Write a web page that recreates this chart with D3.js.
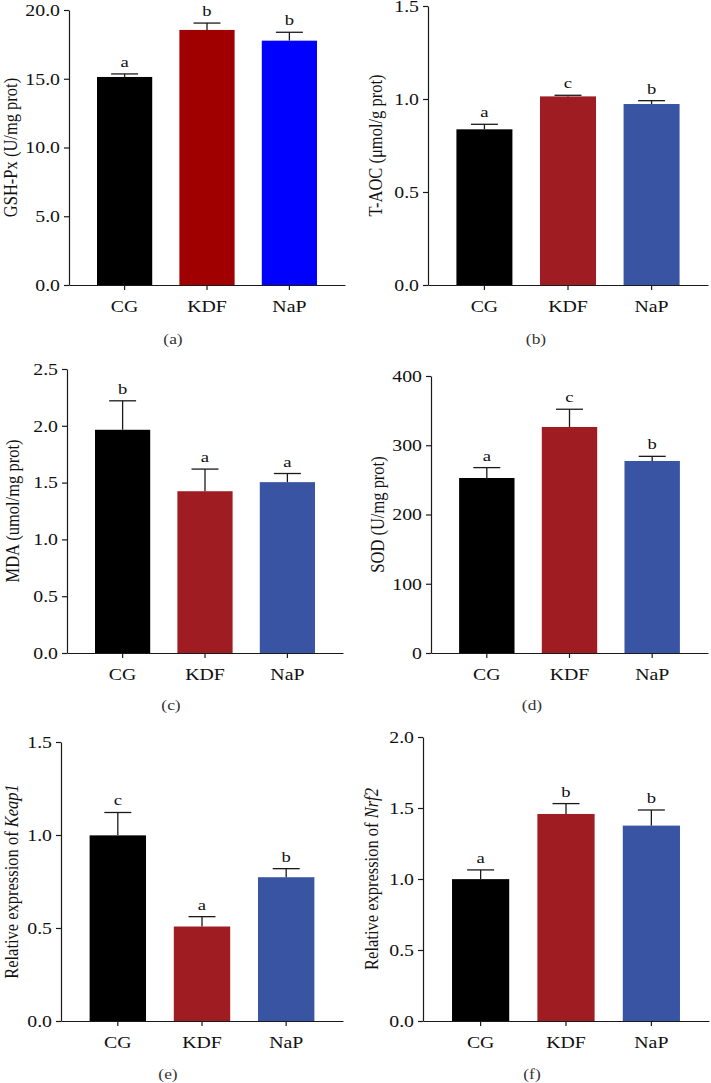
<!DOCTYPE html>
<html>
<head>
<meta charset="utf-8">
<script src="https://cdn.jsdelivr.net/npm/d3@7"></script>
<style>
  body { margin: 0; background: #fff; }
  svg { display: block; }
  text { font-family: "Liberation Serif", "Times New Roman", serif; fill: #111; }
  .domain, .tick line { stroke: #1a1a1a; stroke-width: 1.2; }
</style>
</head>
<body>
<div id="chart"></div>
<script>
// group names on the x axis
const groups = ['CG', 'KDF', 'NaP'];

// bar heights, upper error (SD) and significance letters
const gshPx = [15.13, 18.55, 17.77];
const gshPxErr = [0.22, 0.50, 0.61];
const gshPxSig = ['a', 'b', 'b'];

const tAoc = [0.837, 1.014, 0.973];
const tAocErr = [0.027, 0.006, 0.018];
const tAocSig = ['a', 'c', 'b'];

const mda = [1.965, 1.424, 1.504];
const mdaErr = [0.255, 0.195, 0.076];
const mdaSig = ['b', 'a', 'a'];

const sod = [252.7, 326.4, 277.3];
const sodErr = [15.0, 25.6, 6.7];
const sodSig = ['a', 'c', 'b'];

const keap1 = [0.998, 0.508, 0.773];
const keap1Err = [0.123, 0.053, 0.046];
const keap1Sig = ['c', 'a', 'b'];

const nrf2 = [0.999, 1.458, 1.376];
const nrf2Err = [0.065, 0.073, 0.110];
const nrf2Sig = ['a', 'b', 'b'];

// y tick values
const ticksA = [0, 5, 10, 15, 20];
const ticksB = [0, 0.5, 1.0, 1.5];
const ticksC = [0, 0.5, 1.0, 1.5, 2.0, 2.5];
const ticksD = [0, 100, 200, 300, 400];
const ticksE = [0, 0.5, 1.0, 1.5];
const ticksF = [0, 0.5, 1.0, 1.5, 2.0];

const coloursA = ['#000000', '#a00000', '#0000ff'];
const coloursRest = ['#000000', '#9e1c22', '#3a54a4'];

const W = 711, H = 1083;
const SX = 1.2; // the source figure is stretched sideways, so is its lettering

const svg = d3.select('#chart').append('svg')
	.attr('width', W)
	.attr('height', H);

const panels = [
	{ label: '(a)', vals: gshPx, errs: gshPxErr, sig: gshPxSig, ticks: ticksA, fmt: '.1f', colours: coloursA,
	  title: [['GSH-Px (U/mg prot)', false]], x0: 69, x1: 345, top: 10, base: 285, titleX: 11, lab: [173, 344] },
	{ label: '(b)', vals: tAoc, errs: tAocErr, sig: tAocSig, ticks: ticksB, fmt: '.1f', colours: coloursRest,
	  title: [['T-AOC (μmol/g prot)', false]], x0: 428, x1: 708, top: 6, base: 285, titleX: 376, lab: [536, 344] },
	{ label: '(c)', vals: mda, errs: mdaErr, sig: mdaSig, ticks: ticksC, fmt: '.1f', colours: coloursRest,
	  title: [['MDA (umol/mg prot)', false]], x0: 67, x1: 343, top: 369, base: 653, titleX: 13, lab: [171, 710] },
	{ label: '(d)', vals: sod, errs: sodErr, sig: sodSig, ticks: ticksD, fmt: 'd', colours: coloursRest,
	  title: [['SOD (U/mg prot)', false]], x0: 431, x1: 708, top: 376, base: 653, titleX: 378, lab: [532, 710] },
	{ label: '(e)', vals: keap1, errs: keap1Err, sig: keap1Sig, ticks: ticksE, fmt: '.1f', colours: coloursRest,
	  title: [['Relative expression of ', false], ['Keap1', true]], x0: 61, x1: 343, top: 742, base: 1021, titleX: 12, lab: [168, 1079] },
	{ label: '(f)', vals: nrf2, errs: nrf2Err, sig: nrf2Sig, ticks: ticksF, fmt: '.1f', colours: coloursRest,
	  title: [['Relative expression of ', false], ['Nrf2', true]], x0: 423, x1: 709, top: 737, base: 1021, titleX: 372, lab: [532, 1079] }
];

panels.forEach(drawPanel);

function drawPanel(p) {
	const g = svg.append('g');

	const x = d3.scaleBand()
		.domain(groups)
		.range([p.x0, p.x1])
		.paddingInner(0.33)
		.paddingOuter(0.34);

	const y = d3.scaleLinear()
		.domain([0, d3.max(p.ticks)])
		.range([p.base, p.top]);

	const rows = groups.map((name, i) => ({ name: name, v: p.vals[i], e: p.errs[i], s: p.sig[i], c: p.colours[i] }));

	// bars
	g.selectAll('rect.bar')
		.data(rows)
		.enter().append('rect')
			.attr('class', 'bar')
			.attr('x', d => x(d.name))
			.attr('width', x.bandwidth())
			.attr('y', d => y(d.v))
			.attr('height', d => y(0) - y(d.v))
			.attr('fill', d => d.c);

	// upper error bars
	const cap = 13.5;
	const eb = g.selectAll('g.err')
		.data(rows)
		.enter().append('g')
			.attr('class', 'err')
			.attr('stroke', '#1a1a1a')
			.attr('stroke-width', 1.3);
	eb.append('line')
		.attr('x1', d => x(d.name) + x.bandwidth() / 2)
		.attr('x2', d => x(d.name) + x.bandwidth() / 2)
		.attr('y1', d => y(d.v))
		.attr('y2', d => y(d.v + d.e));
	eb.append('line')
		.attr('x1', d => x(d.name) + x.bandwidth() / 2 - cap)
		.attr('x2', d => x(d.name) + x.bandwidth() / 2 + cap)
		.attr('y1', d => y(d.v + d.e))
		.attr('y2', d => y(d.v + d.e));

	// significance letters
	g.selectAll('text.sig')
		.data(rows)
		.enter().append('text')
			.attr('class', 'sig')
			.attr('text-anchor', 'middle')
			.attr('transform', d => 'translate(' + (x(d.name) + x.bandwidth() / 2) + ',' + (y(d.v + d.e) - 7) + ') scale(' + SX + ',1)')
			.style('font-size', '15.5px')
			.text(d => d.s);

	// y axis
	const ya = g.append('g')
		.attr('transform', 'translate(' + p.x0 + ',0)')
		.call(d3.axisLeft(y).tickValues(p.ticks).tickFormat(d3.format(p.fmt)).tickSize(5).tickSizeOuter(0));
	ya.selectAll('text')
		.attr('x', 0)
		.attr('transform', 'translate(-9,0) scale(' + SX + ',1)')
		.style('font-size', '16.5px')
		.style('font-family', '"Liberation Serif", serif')
		.style('fill', '#111');

	// x axis
	const xa = g.append('g')
		.attr('transform', 'translate(0,' + p.base + ')')
		.call(d3.axisBottom(x).tickSize(5).tickSizeOuter(0));
	xa.selectAll('text')
		.attr('y', 0)
		.attr('dy', 0)
		.attr('transform', 'translate(0,27) scale(' + SX + ',1)')
		.style('font-size', '16.5px')
		.style('font-family', '"Liberation Serif", serif')
		.style('fill', '#111');

	// y title
	const t = g.append('text')
		.attr('text-anchor', 'middle')
		.attr('transform', 'translate(' + (p.titleX + 6) + ',' + ((p.top + p.base) / 2) + ') scale(' + SX + ',1) rotate(-90)')
		.style('font-size', '16.5px');
	p.title.forEach(part => {
		t.append('tspan')
			.style('font-style', part[1] ? 'italic' : 'normal')
			.text(part[0]);
	});

	// panel label
	g.append('text')
		.attr('text-anchor', 'middle')
		.attr('transform', 'translate(' + p.lab[0] + ',' + p.lab[1] + ') scale(' + SX + ',1)')
		.style('font-size', '14.5px')
		.style('fill', '#333')
		.text(p.label);
}
</script>
</body>
</html>
